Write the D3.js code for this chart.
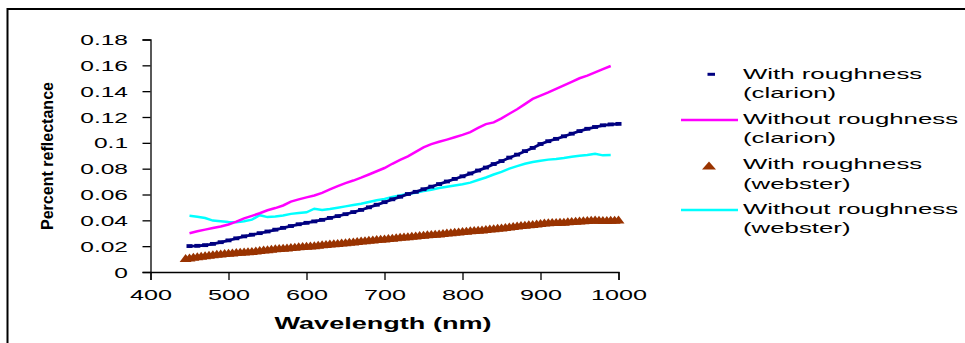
<!DOCTYPE html>
<html>
<head>
<meta charset="utf-8">
<script src="https://cdn.jsdelivr.net/npm/d3@7"></script>
<style>
  html, body { margin: 0; padding: 0; background: #fff; }
  svg { display: block; }
  text { font-family: Arial, "Liberation Sans", sans-serif; fill: #000; }
</style>
</head>
<body>
<svg id="chart" width="965" height="343"></svg>
<script>
// ---------- DATA ----------
const wavelengths = [450,460,470,480,490,500,510,520,530,540,550,560,570,580,590,600,610,620,630,640,
  650,660,670,680,690,700,710,720,730,740,750,760,770,780,790,800,810,820,830,840,
  850,860,870,880,890,900,910,920,930,940,950,960,970,980,990,1000];

const withRoughClarion = [.0200,.0202,.0207,.0217,.0230,.0244,.0260,.0275,.0288,.0300,.0313,.0327,.0341,.0355,.0369,.0380,.0391,.0403,.0418,.0432,
  .0447,.0463,.0480,.0500,.0520,.0540,.0562,.0582,.0603,.0620,.0640,.0660,.0680,.0700,.0720,.0740,.0762,.0785,.0808,.0835,
  .0858,.0885,.0908,.0935,.0960,.0990,.1012,.1030,.1050,.1070,.1090,.1108,.1122,.1135,.1142,.1146];

const withoutRoughClarion = [.0300,.0315,.0328,.0340,.0352,.0368,.0390,.0415,.0435,.0455,.0478,.0495,.0515,.0545,.0562,.0578,.0592,.0612,.0640,.0665,
  .0688,.0708,.0730,.0755,.0780,.0805,.0838,.0868,.0895,.0930,.0965,.0990,.1008,.1025,.1043,.1062,.1083,.1115,.1145,.1158,
  .1190,.1225,.1260,.1300,.1340,.1365,.1390,.1418,.1445,.1472,.1500,.1520,.1545,.1570,.1595,null];

const withoutRoughWebster = [.0435,.0428,.0418,.0398,.0392,.0387,.0386,.0393,.0405,.0440,.0425,.0430,.0437,.0450,.0457,.0462,.0490,.0480,.0488,.0498,
  .0508,.0518,.0528,.0542,.0555,.0565,.0580,.0592,.0605,.0614,.0626,.0637,.0650,.0660,.0670,.0680,.0692,.0712,.0732,.0755,
  .0775,.0800,.0820,.0838,.0852,.0862,.0870,.0875,.0882,.0892,.0900,.0905,.0916,.0903,.0905,null];

const websterWavelengths = [445,450,455,460,465,470,475,480,485,490,495,500,505,510,515,520,525,530,535,540,
  545,550,555,560,565,570,575,580,585,590,595,600,605,610,615,620,625,630,635,640,
  645,650,655,660,665,670,675,680,685,690,695,700,705,710,715,720,725,730,735,740,
  745,750,755,760,765,770,775,780,785,790,795,800,805,810,815,820,825,830,835,840,
  845,850,855,860,865,870,875,880,885,890,895,900,905,910,915,920,925,930,935,940,
  945,950,955,960,965,970,975,980,985,990,995,1000];

const withRoughWebster = [.0108,.0112,.0118,.0122,.0126,.0130,.0134,.0138,.0141,.0144,.0147,.0149,.0151,.0154,.0156,.0158,.0160,.0163,.0166,.0170,
  .0174,.0177,.0180,.0183,.0186,.0188,.0190,.0193,.0196,.0199,.0202,.0204,.0206,.0208,.0211,.0214,.0217,.0220,.0222,.0225,
  .0228,.0231,.0234,.0237,.0240,.0243,.0246,.0249,.0252,.0255,.0258,.0260,.0263,.0266,.0269,.0272,.0275,.0277,.0280,.0283,
  .0286,.0289,.0292,.0295,.0297,.0299,.0302,.0305,.0308,.0311,.0314,.0317,.0320,.0323,.0325,.0327,.0330,.0333,.0336,.0339,
  .0342,.0345,.0348,.0352,.0356,.0360,.0363,.0366,.0369,.0372,.0376,.0380,.0383,.0385,.0387,.0388,.0389,.0390,.0392,.0394,
  .0396,.0398,.0400,.0402,.0404,.0406,.0404,.0402,.0403,.0404,.0405,.0406];

const xTicks = [400,500,600,700,800,900,1000];
const yTicks = [0,0.02,0.04,0.06,0.08,0.1,0.12,0.14,0.16,0.18];
const yTickLabels = ["0","0.02","0.04","0.06","0.08","0.1","0.12","0.14","0.16","0.18"];

const legendLabels = [
  ["With roughness", "(clarion)"],
  ["Without roughness", "(clarion)"],
  ["With roughness", "(webster)"],
  ["Without roughness", "(webster)"]
];
const xTitle = "Wavelength (nm)";
const yTitle = "Percent reflectance";

// ---------- COLORS ----------
const NAVY = "#000080", PINK = "#FF00FF", BROWN = "#993300", CYAN = "#00FFFF";

// ---------- LAYOUT ----------
const svg = d3.select("#chart");
const x = d3.scaleLinear().domain([400, 1000]).range([150.5, 618.5]);
const y = d3.scaleLinear().domain([0, 0.18]).range([272, 39.5]);

// frame (top + left borders; bottom/right outside view)
svg.append("line").attr("x1", 7.5).attr("x2", 965).attr("y1", 9).attr("y2", 9)
  .attr("stroke", "#000").attr("stroke-width", 2);
svg.append("line").attr("x1", 7.5).attr("x2", 7.5).attr("y1", 8).attr("y2", 343)
  .attr("stroke", "#000").attr("stroke-width", 2);

function stretch(sel, factor) {
  sel.each(function () {
    const w = this.getComputedTextLength();
    d3.select(this).attr("textLength", w * factor).attr("lengthAdjust", "spacingAndGlyphs");
  });
}

// axes
const yAxis = d3.axisLeft(y).tickValues(yTicks).tickSize(8).tickPadding(14.5)
  .tickFormat((d, i) => yTickLabels[i]);
const gy = svg.append("g").attr("transform", "translate(150.5,0)").call(yAxis);
gy.select(".domain").attr("stroke", "#000").attr("stroke-width", 1.3);
gy.selectAll(".tick line").attr("stroke", "#000").attr("stroke-width", 1.3);
gy.selectAll("text").attr("font-size", 14).attr("font-family", "Arial, 'Liberation Sans', sans-serif")
  .attr("fill", "#000").attr("dy", "0.36em");
stretch(gy.selectAll("text"), 1.75);

const xAxis = d3.axisBottom(x).tickValues(xTicks).tickSize(8).tickPadding(10)
  .tickFormat(d3.format("d"));
const gx = svg.append("g").attr("transform", "translate(0,272)").call(xAxis);
gx.select(".domain").attr("stroke", "#000").attr("stroke-width", 1.3);
gx.selectAll(".tick line").attr("stroke", "#000").attr("stroke-width", 1.3);
gx.selectAll("text").attr("font-size", 14).attr("font-family", "Arial, 'Liberation Sans', sans-serif")
  .attr("fill", "#000").attr("dy", "0.71em");
stretch(gx.selectAll("text"), 1.8);

// axis titles
const xt = svg.append("text").attr("x", 383).attr("y", 328.5).attr("text-anchor", "middle")
  .attr("font-size", 16).attr("font-weight", "bold").text(xTitle);
xt.attr("textLength", 217).attr("lengthAdjust", "spacingAndGlyphs");

svg.append("text").attr("transform", "translate(53,156) rotate(-90)")
  .attr("text-anchor", "middle").attr("font-size", 17).attr("font-weight", "bold")
  .attr("textLength", 148).attr("lengthAdjust", "spacingAndGlyphs").text(yTitle);

// ---------- SERIES ----------
const lineGen = d3.line().defined(d => d[1] != null).x(d => x(d[0])).y(d => y(d[1]));
const zip = (xs, ys) => xs.map((v, i) => [v, ys[i]]);

// with roughness (webster): triangle markers
const triPath = (cx, cy, w, h) =>
  `M${cx - w / 2},${cy + h / 2}L${cx},${cy - h / 2}L${cx + w / 2},${cy + h / 2}Z`;
svg.append("g").selectAll("path").data(zip(websterWavelengths, withRoughWebster)).join("path")
  .attr("d", d => triPath(x(d[0]), y(d[1]), 12, 8))
  .attr("fill", BROWN);

// without roughness (webster)
svg.append("path").datum(zip(wavelengths, withoutRoughWebster))
  .attr("d", lineGen).attr("fill", "none").attr("stroke", CYAN).attr("stroke-width", 2.5);

// with roughness (clarion): line with dash markers
svg.append("path").datum(zip(wavelengths, withRoughClarion))
  .attr("d", lineGen).attr("fill", "none").attr("stroke", NAVY).attr("stroke-width", 2.8);
svg.append("g").selectAll("rect").data(zip(wavelengths, withRoughClarion)).join("rect")
  .attr("x", d => x(d[0]) - 3).attr("y", d => y(d[1]) - 2)
  .attr("width", 6).attr("height", 3.8).attr("fill", NAVY);

// without roughness (clarion)
svg.append("path").datum(zip(wavelengths, withoutRoughClarion))
  .attr("d", lineGen).attr("fill", "none").attr("stroke", PINK).attr("stroke-width", 2.5);

// ---------- LEGEND ----------
const legendRows = [79, 124, 169.3, 214];
const lg = svg.append("g");
legendLabels.forEach((lab, i) => {
  const by = legendRows[i];
  lab.forEach((t, j) => {
    const tx = lg.append("text").attr("x", 743).attr("y", by + j * 19.3)
      .attr("font-size", 15).text(t);
    stretch(tx, 1.72);
  });
});
// symbols
lg.append("rect").attr("x", 707.5).attr("y", 72.8).attr("width", 7.5).attr("height", 3).attr("fill", NAVY);
lg.append("line").attr("x1", 681).attr("x2", 738).attr("y1", 120).attr("y2", 120)
  .attr("stroke", PINK).attr("stroke-width", 2.5);
lg.append("path").attr("d", triPath(709, 165.5, 14, 8)).attr("fill", BROWN);
lg.append("line").attr("x1", 681).attr("x2", 738).attr("y1", 210).attr("y2", 210)
  .attr("stroke", CYAN).attr("stroke-width", 2.5);
</script>
</body>
</html>
